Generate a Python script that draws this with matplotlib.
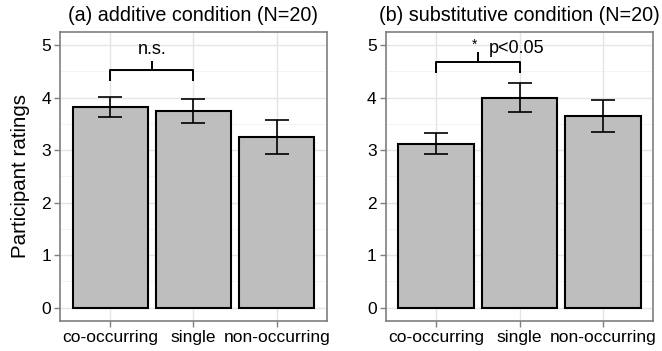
import matplotlib
matplotlib.use("Agg")
import matplotlib.pyplot as plt
import numpy as np

plt.rcParams['font.family'] = ['Liberation Sans', 'DejaVu Sans']

categories = ["co-occurring", "single", "non-occurring"]
titles = ["(a) additive condition (N=20)", "(b) substitutive condition (N=20)"]
additive_means = [3.82, 3.75, 3.25]
additive_err = [0.19, 0.23, 0.32]
subst_means = [3.12, 4.00, 3.65]
subst_err = [0.20, 0.28, 0.30]
yticks = [0, 1, 2, 3, 4, 5]

W, H = 662, 351
fig = plt.figure(figsize=(W / 100, H / 100), dpi=100)

def px_axes(x0, x1, ytop, ybot):
    return fig.add_axes([x0 / W, (H - ybot) / H, (x1 - x0) / W, (ybot - ytop) / H])

axes = [px_axes(60, 327, 32, 320.7), px_axes(385.7, 653.3, 32, 320.7)]
data = [(additive_means, additive_err), (subst_means, subst_err)]

for ax, (m, e), title in zip(axes, data, titles):
    x = np.arange(1, len(categories) + 1)
    ax.set_xlim(0.4, 3.6)
    ax.set_ylim(-0.25, 5.25)
    for yv in np.arange(0.5, 5.0, 1.0):
        ax.axhline(yv, color='#f2f2f2', lw=0.6, zorder=0)
    for yv in yticks:
        ax.axhline(yv, color='#e5e5e5', lw=1.0, zorder=0)
    for xv in x:
        ax.axvline(xv, color='#e5e5e5', lw=1.0, zorder=0)
    ax.bar(x, m, width=0.9, color='#bebebe', edgecolor='black', linewidth=1.5, zorder=2)
    ax.errorbar(x, m, yerr=e, fmt='none', ecolor='black', elinewidth=1.2,
                capsize=8.4, capthick=1.2, zorder=3)
    ax.set_xticks(x)
    ax.set_xticklabels(categories, fontsize=12.5)
    ax.set_yticks(yticks)
    ax.set_yticklabels([str(v) for v in yticks], fontsize=12.5)
    ax.tick_params(axis='both', color='#7f7f7f', length=4, width=1, pad=2.5, labelcolor='black')
    for s in ax.spines.values():
        s.set_color('#7f7f7f')
        s.set_linewidth(1.2)
    ax.set_title(title, fontsize=14.2, pad=8)

axes[0].set_ylabel("Participant ratings", fontsize=14.8, labelpad=8)

# significance brackets
def bracket(ax, x1, x2, ylow, yh, ytick):
    ax.plot([x1, x1, x2, x2], [ylow, yh, yh, ylow], color='black', lw=1.4, zorder=4, solid_capstyle='butt')
    ax.plot([(x1 + x2) / 2] * 2, [yh, ytick], color='black', lw=1.4, zorder=4, solid_capstyle='butt')

bracket(axes[0], 1, 2, 4.32, 4.53, 4.70)
axes[0].text(1.5, 4.92, "n.s.", ha='center', va='center', fontsize=13)
bracket(axes[1], 1, 2, 4.47, 4.68, 4.87)
axes[1].text(1.46, 5.0, "*", ha='center', va='center', fontsize=10)
axes[1].text(1.63, 4.94, "p<0.05", ha='left', va='center', fontsize=13)

fig.savefig("out.png", dpi=100)
